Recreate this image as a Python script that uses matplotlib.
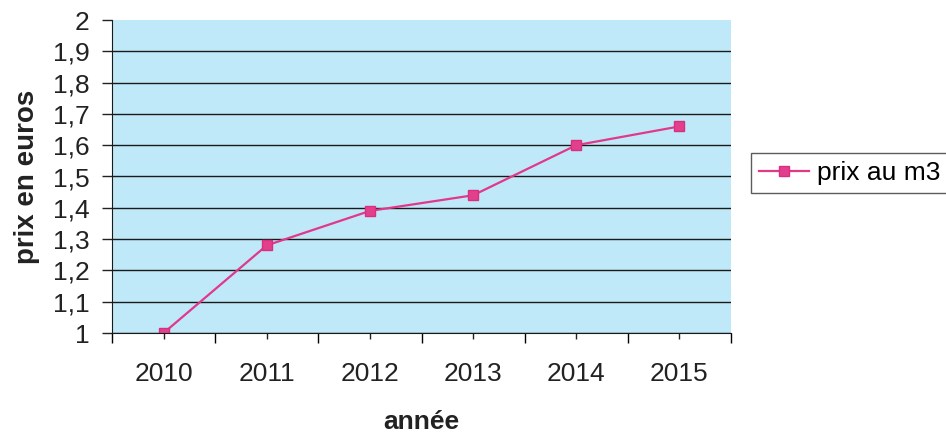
import matplotlib.pyplot as plt
from matplotlib.ticker import FixedLocator

plt.rcParams['font.family'] = ['Liberation Sans', 'DejaVu Sans']

annees = ['2010', '2011', '2012', '2013', '2014', '2015']
prix = [1.0, 1.28, 1.39, 1.44, 1.60, 1.66]
yticks = [1.0, 1.1, 1.2, 1.3, 1.4, 1.5, 1.6, 1.7, 1.8, 1.9, 2.0]
ylabels = ['1', '1,1', '1,2', '1,3', '1,4', '1,5', '1,6', '1,7', '1,8', '1,9', '2']

fig = plt.figure(figsize=(9.46, 4.36), dpi=100)
ax = fig.add_axes([112 / 946, 103 / 436, 619 / 946, 313 / 436])
ax.set_facecolor('#bfe9f9')

x = list(range(len(annees)))
ax.plot(x, prix, color='#e2388a', lw=1.6, marker='s', markersize=7.5,
        markerfacecolor='#e2408c', markeredgecolor='#d8307f', label='prix au m3')

ax.set_xlim(-0.5, len(annees) - 0.5)
ax.set_ylim(1, 2)
ax.set_xticks(x)
ax.set_xticklabels(annees)
ax.xaxis.set_minor_locator(FixedLocator([i - 0.5 for i in range(len(annees) + 1)]))
ax.set_yticks(yticks)
ax.set_yticklabels(ylabels)

ax.tick_params(axis='x', which='major', direction='out', length=4, width=1,
               pad=17, labelsize=19, colors='#222222')
ax.tick_params(axis='x', which='minor', direction='out', length=7, width=1)
ax.tick_params(axis='y', direction='out', length=7, width=1, pad=9,
               labelsize=19, colors='#222222')

ax.grid(axis='y', color='#1a1a1a', lw=1)
ax.get_ygridlines()[-1].set_visible(False)
ax.set_axisbelow(True)

for s in ['top', 'right']:
    ax.spines[s].set_visible(False)
ax.spines['left'].set_color('#1a1a1a')
ax.spines['bottom'].set_color('#1a1a1a')

ax.set_ylabel('prix en euros', fontsize=20, fontweight='bold', color='#222222')
ax.yaxis.label.set_va('center')
ax.yaxis.set_label_coords(-0.137, 0.5)
ax.set_xlabel('année', fontsize=19, fontweight='bold', color='#222222')
ax.xaxis.label.set_va('center')
ax.xaxis.set_label_coords(0.5, -0.285)

leg = fig.legend(loc='center left', bbox_to_anchor=(751 / 946, 263 / 436),
                 fontsize=19, frameon=True, fancybox=False, handlelength=1.9,
                 handletextpad=0.3, borderpad=0.3, borderaxespad=0)
leg.get_frame().set_edgecolor('#333333')
leg.get_frame().set_linewidth(1)

fig.savefig('out.png', dpi=100)
